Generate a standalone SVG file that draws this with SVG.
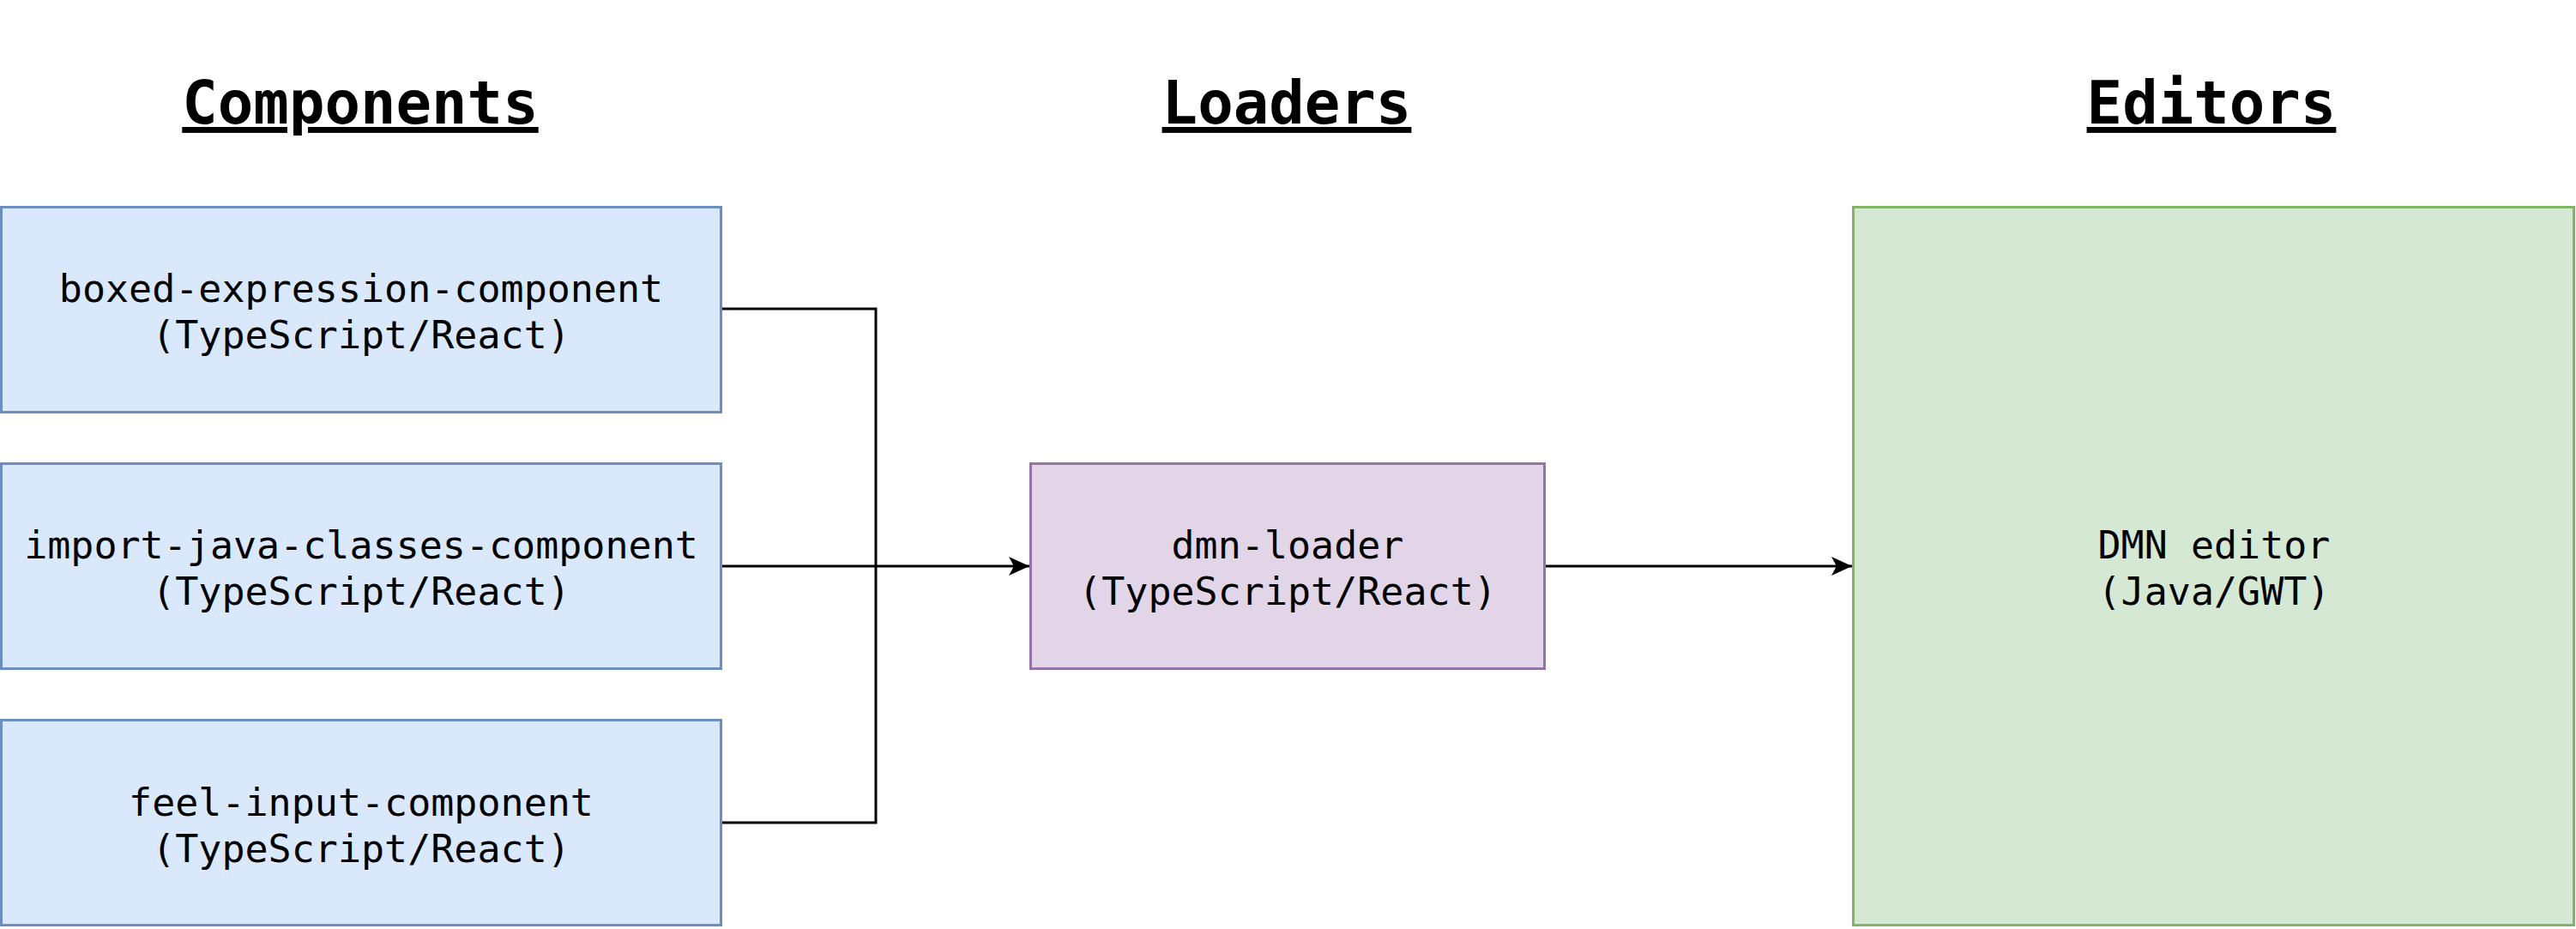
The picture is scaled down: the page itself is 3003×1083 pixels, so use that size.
<svg xmlns="http://www.w3.org/2000/svg" width="3003" height="1083" viewBox="0 0 3003 1083">
<style>
.t{font-family:"DejaVu Sans Mono","Liberation Mono",monospace;font-size:45px;fill:#000;text-anchor:middle}
.h{font-family:"DejaVu Sans Mono","Liberation Mono",monospace;font-size:69px;font-weight:bold;fill:#000;text-anchor:middle;text-decoration:underline}
.blue{fill:#dae8fc;stroke:#6c8ebf;stroke-width:3}
.purple{fill:#e1d5e7;stroke:#9673a6;stroke-width:3}
.green{fill:#d5e8d4;stroke:#82b366;stroke-width:3}
.c{fill:none;stroke:#000;stroke-width:3}
</style>
<defs>
<marker id="arr" markerUnits="userSpaceOnUse" markerWidth="30" markerHeight="30" viewBox="0 0 30 30" refX="24" refY="15" orient="auto">
<path d="M0,4 L24,15 L0,26 L6,15 Z" fill="#000"/>
</marker>
</defs>
<rect width="3003" height="1083" fill="#fff"/>
<g id="titles">
<text class="h" x="420" y="144">Components</text>
<text class="h" x="1500" y="144">Loaders</text>
<text class="h" x="2578" y="144">Editors</text>
</g>
<g id="connectors">
<polyline class="c" points="841,360 1021,360 1021,660"/>
<polyline class="c" points="841,959 1021,959 1021,660"/>
<line class="c" x1="841" y1="660" x2="1200" y2="660" marker-end="url(#arr)"/>
<line class="c" x1="1801" y1="660" x2="2159" y2="660" marker-end="url(#arr)"/>
</g>
<g id="boxed-expression-component">
<rect class="blue" x="1.5" y="241.5" width="839" height="239"/>
<text class="t" x="421" y="352">boxed-expression-component</text>
<text class="t" x="421" y="406">(TypeScript/React)</text>
</g>
<g id="import-java-classes-component">
<rect class="blue" x="1.5" y="540.5" width="839" height="239"/>
<text class="t" x="421" y="651">import-java-classes-component</text>
<text class="t" x="421" y="705">(TypeScript/React)</text>
</g>
<g id="feel-input-component">
<rect class="blue" x="1.5" y="839.5" width="839" height="239"/>
<text class="t" x="421" y="951">feel-input-component</text>
<text class="t" x="421" y="1005">(TypeScript/React)</text>
</g>
<g id="dmn-loader">
<rect class="purple" x="1201.5" y="540.5" width="599" height="239"/>
<text class="t" x="1501" y="651">dmn-loader</text>
<text class="t" x="1501" y="705">(TypeScript/React)</text>
</g>
<g id="dmn-editor">
<rect class="green" x="2160.5" y="241.5" width="840" height="837"/>
<text class="t" x="2581" y="651">DMN editor</text>
<text class="t" x="2581" y="705">(Java/GWT)</text>
</g>
</svg>
